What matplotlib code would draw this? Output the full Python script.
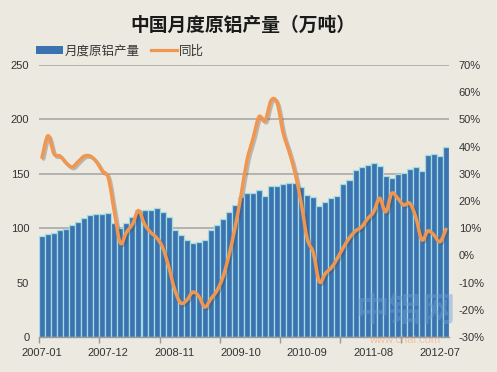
import matplotlib
matplotlib.use('Agg')
import matplotlib.pyplot as plt
from matplotlib.path import Path
from matplotlib.patches import PathPatch, Patch
from matplotlib.lines import Line2D
import matplotlib.patheffects as pe
import numpy as np

plt.rcParams['font.family'] = ['Liberation Sans', 'Noto Sans CJK SC', 'DejaVu Sans']

title = "中国月度原铝产量（万吨）"
series_bar = "月度原铝产量"
series_line = "同比"

# monthly categories 2007-01 .. 2012-08
months = [f"{2007 + m // 12}-{m % 12 + 1:02d}" for m in range(68)]
tick_labels = ['2007-01', '2007-12', '2008-11', '2009-10', '2010-09', '2011-08', '2012-07']

production = [93, 95, 96, 98, 99.5, 102.5, 106, 109.5, 112, 113, 113, 114,
              105, 100, 104.5, 110, 116.5, 116.5, 117, 119, 115, 110, 98, 94,
              89, 86, 87, 89, 98, 102.5, 108, 115, 121.5, 129, 132, 132,
              135, 129.5, 139, 139, 141, 142, 142, 138, 130.5, 129, 120, 124,
              128, 129.5, 141, 144.5, 153.5, 156, 158, 159.5, 157.5, 148, 146, 150,
              151, 154, 156, 152.5, 167.5, 168, 166.5, 175]

yoy = [36, 44, 37.3, 36.5, 34, 32.5, 34.5, 36.5, 36.5, 34.5, 31, 28.5,
       16, 4.5, 8.5, 11.5, 16.5, 11.5, 8.5, 6.5, 3, -4, -12.5, -17.5,
       -16.5, -13.5, -15, -19, -16, -13, -8, 0, 10, 22, 35, 43,
       51, 49.5, 57, 56, 45, 38, 30, 19, 6, 1, -9.7, -6.6,
       -4.5, -1, 3, 6.5, 9, 10.5, 13.5, 16, 21, 16, 22.8, 21,
       18.5, 19.2, 14, 5.7, 9, 7.5, 5, 9.6]

bg = '#ece9e1'
bar_c = '#3b73b2'
edge_c = '#a3dcdc'
line_c = '#f1964f'
grid_c = '#a9a9a9'
txt_c = '#333333'

fig = plt.figure(figsize=(4.97, 3.72), dpi=100, facecolor=bg)
ax = fig.add_axes([39 / 497, 1 - 337 / 372, 410 / 497, 272 / 372])
ax.set_facecolor(bg)

x = np.arange(len(production))
ax.bar(x, production, width=1.0, color=bar_c, edgecolor=edge_c, linewidth=0.9, zorder=2)
ax.set_xlim(-0.5, len(production) - 0.5)
ax.set_ylim(0, 250)
ax.set_yticks(range(0, 251, 50))
ax.yaxis.grid(True, color=grid_c, lw=1.2, zorder=0)
ax.set_axisbelow(True)
for s in ['top', 'right', 'left']:
    ax.spines[s].set_visible(False)
ax.spines['bottom'].set_color('#9a9a9a')
ax.spines['bottom'].set_linewidth(1.0)
ax.tick_params(axis='y', length=0, pad=7, labelsize=8, labelcolor=txt_c)

label_idx = [months.index(t) for t in tick_labels]
ax.set_xticks(label_idx)
ax.set_xticklabels(tick_labels)
ax.tick_params(axis='x', which='major', length=0, pad=8, labelsize=8, labelcolor=txt_c)
ax.set_xticks(np.arange(-0.5, len(production), 10), minor=True)
ax.tick_params(axis='x', which='minor', length=4, color='#9a9a9a', width=1)

ax2 = ax.twinx()
ax2.set_ylim(-30, 70)
ax2.set_yticks(range(-30, 71, 10))
ax2.yaxis.set_major_formatter(lambda v, p: f"{int(round(v))}%")
for s in ['top', 'right', 'left', 'bottom']:
    ax2.spines[s].set_visible(False)
ax2.tick_params(axis='y', length=0, pad=7, labelsize=8, labelcolor=txt_c)

# smoothed line (Catmull-Rom -> Bezier) through the data points
pts = np.column_stack([x, yoy]).astype(float)
verts = [pts[0]]
codes = [Path.MOVETO]
n = len(pts)
for i in range(n - 1):
    p0 = pts[i - 1] if i > 0 else pts[i]
    p1 = pts[i]
    p2 = pts[i + 1]
    p3 = pts[i + 2] if i + 2 < n else pts[i + 1]
    c1 = p1 + (p2 - p0) / 6.0
    c2 = p2 - (p3 - p1) / 6.0
    verts += [c1, c2, p2]
    codes += [Path.CURVE4] * 3
path = Path(verts, codes)
patch = PathPatch(path, facecolor='none', edgecolor=line_c, lw=2.5, zorder=3,
                  transform=ax2.transData, capstyle='round', joinstyle='round')
patch.set_path_effects([pe.SimpleLineShadow(offset=(1.2, -1.2), alpha=0.3, shadow_color='#444444'),
                        pe.Normal()])
ax2.add_patch(patch)

fig.text(243 / 497, 1 - 25 / 372, title, ha='center', va='center', fontsize=13.5,
         fontweight='bold', color='#1a1a1a', family=['Noto Sans CJK SC', 'DejaVu Sans'])

handles = [Patch(facecolor=bar_c, edgecolor='none'),
           Line2D([0], [0], color=line_c, lw=2.3)]
leg = fig.legend(handles, [series_bar, series_line], loc='center left',
                 bbox_to_anchor=(25 / 497, 1 - 51 / 372), frameon=False, ncol=2,
                 handlelength=2.1, handleheight=0.55, handletextpad=0.15, columnspacing=0.9,
                 prop={'family': ['Noto Sans CJK SC', 'DejaVu Sans'], 'size': 9})
for t in leg.get_texts():
    t.set_color(txt_c)

# watermark
fig.text(405 / 497, 1 - 312 / 372, "中铝网", ha='center', va='center', fontsize=24,
         fontweight='bold', color='#6f9fd6', alpha=0.45,
         family=['Noto Sans CJK SC', 'DejaVu Sans'], zorder=10)
fig.text(405 / 497, 1 - 340 / 372, "www.chal.com", ha='center', va='center', fontsize=8,
         color='#f3a06e', alpha=0.55, zorder=10)

fig.savefig('out.png', dpi=100, facecolor=bg)
